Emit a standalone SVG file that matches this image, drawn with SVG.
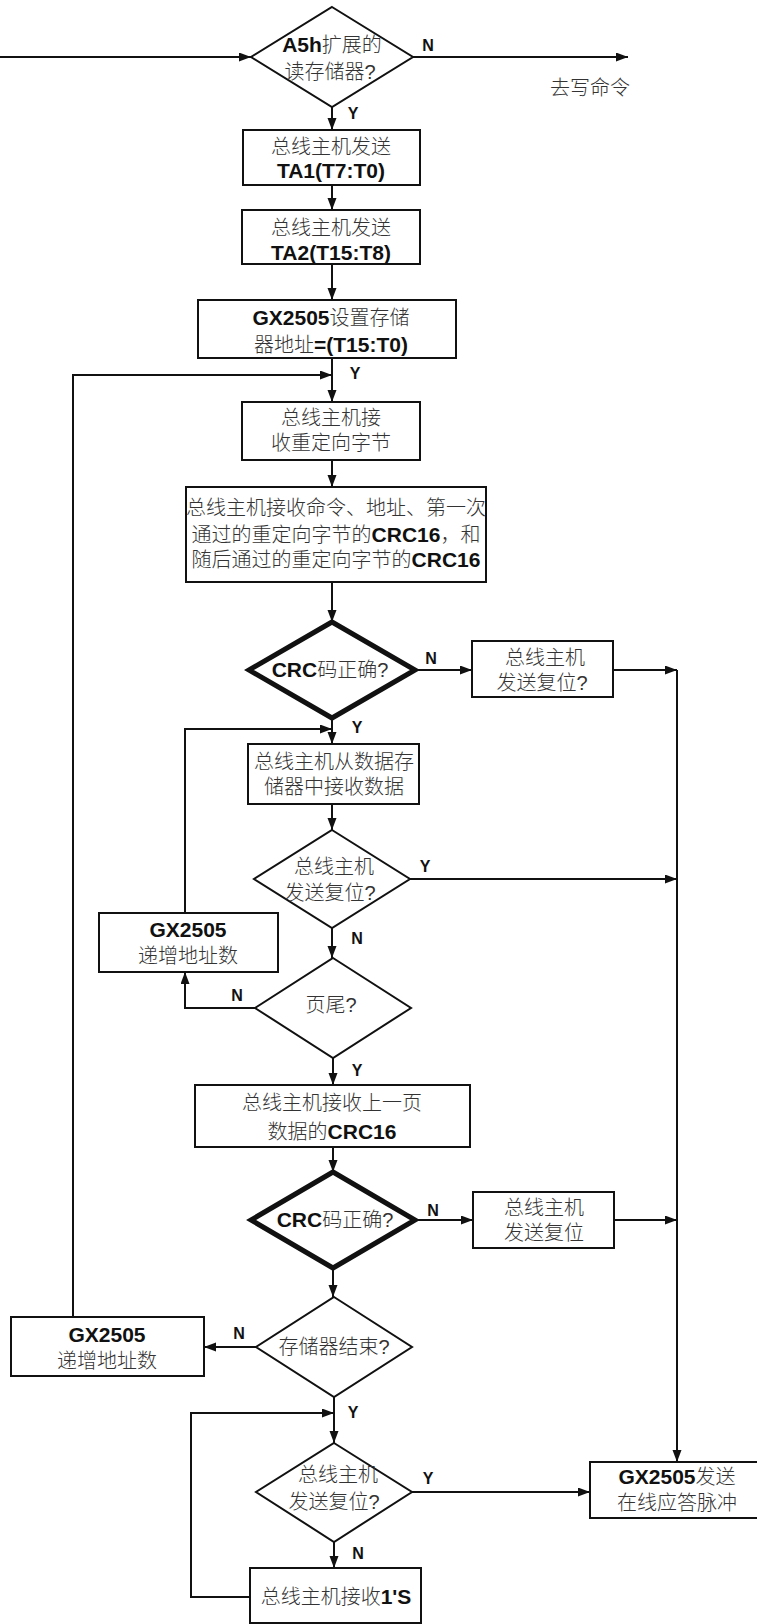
<svg xmlns="http://www.w3.org/2000/svg" width="757" height="1624" viewBox="0 0 757 1624">
<style>
.bg{fill:#fff}
.box{fill:#fff;stroke:#111;stroke-width:2}
.dia{fill:#fff;stroke:#111;stroke-width:2}
.thick{fill:#fff;stroke:#111;stroke-width:5;stroke-linejoin:miter}
.ln{fill:none;stroke:#111;stroke-width:2}
.t{font-family:"Liberation Sans","Noto Sans CJK SC",sans-serif;font-size:20px;font-weight:300;fill:#333;text-anchor:middle}
.b{font-family:"Liberation Sans","Noto Sans CJK SC",sans-serif;font-weight:bold;fill:#111;font-size:21px}
.lb{font-family:"Liberation Sans",sans-serif;font-weight:bold;font-size:16px;fill:#111;text-anchor:middle}
</style>
<defs>
<marker id="ah" markerUnits="userSpaceOnUse" markerWidth="13" markerHeight="10" refX="12" refY="4.5" orient="auto">
<path d="M0,0 L12,4.5 L0,9 z" fill="#111"/>
</marker>
</defs>
<rect class="bg" x="0" y="0" width="757" height="1624"/>

<g id="connectors">
<path class="ln" d="M0,57 H251" marker-end="url(#ah)"/>
<path class="ln" d="M413,57 H628" marker-end="url(#ah)"/>
<path class="ln" d="M332,107 V130" marker-end="url(#ah)"/>
<path class="ln" d="M332,185 V210" marker-end="url(#ah)"/>
<path class="ln" d="M332,264 V300" marker-end="url(#ah)"/>
<path class="ln" d="M332,358 V402" marker-end="url(#ah)"/>
<path class="ln" d="M73,1317 V375 H332" marker-end="url(#ah)"/>
<path class="ln" d="M332,460 V487" marker-end="url(#ah)"/>
<path class="ln" d="M332,582 V622" marker-end="url(#ah)"/>
<path class="ln" d="M415,670 H472" marker-end="url(#ah)"/>
<path class="ln" d="M613,670 H677" marker-end="url(#ah)"/>
<path class="ln" d="M677,670 V1462" marker-end="url(#ah)"/>
<path class="ln" d="M332,718 V744" marker-end="url(#ah)"/>
<path class="ln" d="M185,913 V729 H332" marker-end="url(#ah)"/>
<path class="ln" d="M332,804 V830" marker-end="url(#ah)"/>
<path class="ln" d="M410,879 H677" marker-end="url(#ah)"/>
<path class="ln" d="M332,928 V958" marker-end="url(#ah)"/>
<path class="ln" d="M255,1008 H185 V972" marker-end="url(#ah)"/>
<path class="ln" d="M333,1058 V1085" marker-end="url(#ah)"/>
<path class="ln" d="M333,1147 V1172" marker-end="url(#ah)"/>
<path class="ln" d="M415,1220 H473" marker-end="url(#ah)"/>
<path class="ln" d="M614,1220 H677" marker-end="url(#ah)"/>
<path class="ln" d="M333,1268 V1297" marker-end="url(#ah)"/>
<path class="ln" d="M256,1347 H204" marker-end="url(#ah)"/>
<path class="ln" d="M334,1397 V1443" marker-end="url(#ah)"/>
<path class="ln" d="M250,1597 H191 V1413 H334" marker-end="url(#ah)"/>
<path class="ln" d="M412,1492 H590" marker-end="url(#ah)"/>
<path class="ln" d="M334,1542 V1568" marker-end="url(#ah)"/>
</g>

<g id="labels">
<text class="lb" x="428" y="51">N</text>
<text class="lb" x="353" y="119">Y</text>
<text class="lb" x="355" y="379">Y</text>
<text class="lb" x="431" y="664">N</text>
<text class="lb" x="357" y="733">Y</text>
<text class="lb" x="425" y="872">Y</text>
<text class="lb" x="357" y="944">N</text>
<text class="lb" x="237" y="1001">N</text>
<text class="lb" x="357" y="1076">Y</text>
<text class="lb" x="433" y="1216">N</text>
<text class="lb" x="239" y="1339">N</text>
<text class="lb" x="353" y="1418">Y</text>
<text class="lb" x="428" y="1484">Y</text>
<text class="lb" x="358" y="1559">N</text>
<text class="t" x="590" y="95">去写命令</text>
</g>

<g id="d1">
<polygon class="dia" points="332,7 413,57 332,107 251,57"/>
<text class="t" x="332" y="52"><tspan class="b">A5h</tspan>扩展的<tspan x="330" dy="27">读存储器?</tspan></text>
</g>
<g id="b1">
<rect class="box" x="243" y="130" width="177" height="55"/>
<text class="t" x="331" y="154">总线主机发送<tspan x="331" dy="24"><tspan class="b">TA1(T7:T0)</tspan></tspan></text>
</g>
<g id="b2">
<rect class="box" x="242" y="210" width="178" height="54"/>
<text class="t" x="331" y="235">总线主机发送<tspan x="331" dy="25"><tspan class="b">TA2(T15:T8)</tspan></tspan></text>
</g>
<g id="b3">
<rect class="box" x="198" y="300" width="258" height="58"/>
<text class="t" x="331" y="325"><tspan class="b">GX2505</tspan>设置存储<tspan x="331" dy="27">器地址<tspan class="b">=(T15:T0)</tspan></tspan></text>
</g>
<g id="b4">
<rect class="box" x="242" y="402" width="178" height="58"/>
<text class="t" x="331" y="425">总线主机接<tspan x="331" dy="25">收重定向字节</tspan></text>
</g>
<g id="b5">
<rect class="box" x="186" y="487" width="300" height="95"/>
<text class="t" x="336" y="515">总线主机接收命令、地址、第一次<tspan x="336" dy="27">通过的重定向字节的<tspan class="b">CRC16</tspan>，和</tspan><tspan x="336" dy="25">随后通过的重定向字节的<tspan class="b">CRC16</tspan></tspan></text>
</g>
<g id="d2">
<polygon class="thick" points="332,622 415,670 332,718 249,670"/>
<text class="t" x="330" y="677"><tspan class="b">CRC</tspan>码正确?</text>
</g>
<g id="b6">
<rect class="box" x="472" y="641" width="141" height="56"/>
<text class="t" x="545" y="665">总线主机<tspan x="542" dy="25">发送复位?</tspan></text>
</g>
<g id="b7">
<rect class="box" x="248" y="744" width="171" height="60"/>
<text class="t" x="334" y="769">总线主机从数据存<tspan x="334" dy="25">储器中接收数据</tspan></text>
</g>
<g id="d3">
<polygon class="dia" points="332,830 410,879 332,928 254,879"/>
<text class="t" x="334" y="874">总线主机<tspan x="330" dy="26">发送复位?</tspan></text>
</g>
<g id="b8">
<rect class="box" x="99" y="913" width="179" height="59"/>
<text class="t" x="188" y="937"><tspan class="b">GX2505</tspan><tspan x="188" dy="26">递增地址数</tspan></text>
</g>
<g id="d4">
<polygon class="dia" points="333,958 411,1008 333,1058 255,1008"/>
<text class="t" x="331" y="1012">页尾?</text>
</g>
<g id="b9">
<rect class="box" x="195" y="1085" width="275" height="62"/>
<text class="t" x="332" y="1110">总线主机接收上一页<tspan x="332" dy="29">数据的<tspan class="b">CRC16</tspan></tspan></text>
</g>
<g id="d5">
<polygon class="thick" points="333,1172 415,1220 333,1268 251,1220"/>
<text class="t" x="335" y="1227"><tspan class="b">CRC</tspan>码正确?</text>
</g>
<g id="b10">
<rect class="box" x="473" y="1192" width="141" height="56"/>
<text class="t" x="544" y="1215">总线主机<tspan x="544" dy="25">发送复位</tspan></text>
</g>
<g id="d6">
<polygon class="dia" points="334,1297 412,1347 334,1397 256,1347"/>
<text class="t" x="334" y="1354">存储器结束?</text>
</g>
<g id="b11">
<rect class="box" x="11" y="1317" width="193" height="59"/>
<text class="t" x="107" y="1342"><tspan class="b">GX2505</tspan><tspan x="107" dy="26">递增地址数</tspan></text>
</g>
<g id="d7">
<polygon class="dia" points="334,1443 412,1492 334,1542 256,1492"/>
<text class="t" x="338" y="1482">总线主机<tspan x="334" dy="27">发送复位?</tspan></text>
</g>
<g id="b12">
<rect class="box" x="590" y="1462" width="174" height="56"/>
<text class="t" x="677" y="1484"><tspan class="b">GX2505</tspan>发送<tspan x="677" dy="26">在线应答脉冲</tspan></text>
</g>
<g id="b13">
<rect class="box" x="250" y="1568" width="171" height="55"/>
<text class="t" x="336" y="1604">总线主机接收<tspan class="b">1'S</tspan></text>
</g>
</svg>
